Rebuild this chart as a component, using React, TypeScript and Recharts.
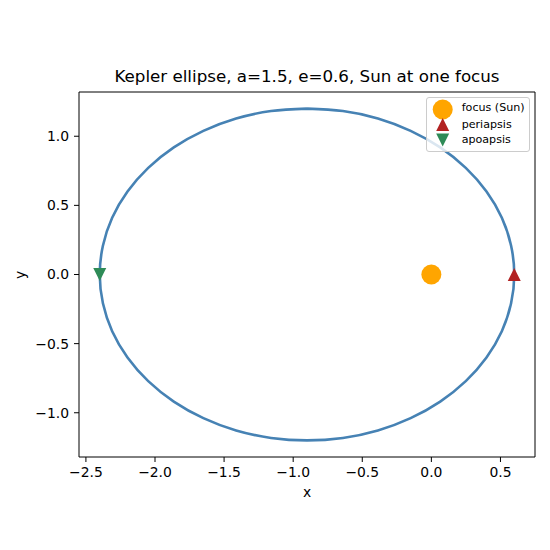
import {
  ComposedChart,
  Line,
  Scatter,
  XAxis,
  YAxis,
  ReferenceLine,
} from "recharts";

// orbit samples (every 10 degrees, starting at the top of the ellipse)
const orbitX = [
  -0.9, -1.16, -1.413, -1.65, -1.864, -2.049, -2.199, -2.31, -2.377, -2.4,
  -2.377, -2.31, -2.199, -2.049, -1.864, -1.65, -1.413, -1.16, -0.9,
  -0.64, -0.387, -0.15, 0.064, 0.249, 0.399, 0.51, 0.577, 0.6,
  0.577, 0.51, 0.399, 0.249, 0.064, -0.15, -0.387, -0.64, -0.9,
];
const orbitY = [
  1.2, 1.182, 1.128, 1.039, 0.919, 0.771, 0.6, 0.41, 0.208, 0,
  -0.208, -0.41, -0.6, -0.771, -0.919, -1.039, -1.128, -1.182, -1.2,
  -1.182, -1.128, -1.039, -0.919, -0.771, -0.6, -0.41, -0.208, 0,
  0.208, 0.41, 0.6, 0.771, 0.919, 1.039, 1.128, 1.182, 1.2,
];

const sunPos = [{ x: 0, y: 0 }];
const periPos = [{ x: 0.6, y: 0 }];
const apoPos = [{ x: -2.4, y: 0 }];

const xTicks = [-2.5, -2, -1.5, -1, -0.5, 0, 0.5];
const yTicks = [-1, -0.5, 0, 0.5, 1];
const xDomain = [-2.55, 0.75];
const yDomain = [-1.32, 1.32];

const legendLabels = ["focus (Sun)", "periapsis", "apoapsis"];

const ORBIT = "#4682b4";
const SUN = "#ffa500";
const PERI = "#b22222";
const APO = "#2e8b57";
const FONT = "DejaVu Sans";

const orbitData = orbitX.map((x, i) => ({ x, y: orbitY[i] }));

const fmt = (v: number) => v.toFixed(1).replace("-", "\u2212");

const triUp = (cx: number, cy: number, s: number) =>
  `M${cx},${cy - s / 2} L${cx - s / 2},${cy + s / 2} L${cx + s / 2},${cy + s / 2} Z`;
const triDown = (cx: number, cy: number, s: number) =>
  `M${cx},${cy + s / 2} L${cx - s / 2},${cy - s / 2} L${cx + s / 2},${cy - s / 2} Z`;

const tickStyle = { fill: "#000", fontSize: 13.9, fontFamily: FONT };

export default function App() {
  return (
    <div
      style={{
        position: "absolute",
        left: 0,
        top: 0,
        width: 550,
        height: 550,
        background: "#fff",
      }}
    >
      <ComposedChart
        width={550}
        height={550}
        margin={{ top: 92, right: 15, bottom: 53, left: 0 }}
      >
        <XAxis
          type="number"
          dataKey="x"
          domain={xDomain}
          ticks={xTicks}
          allowDataOverflow
          tickFormatter={fmt}
          height={40}
          tickSize={5}
          tickMargin={5}
          tick={tickStyle}
          stroke="#000"
        />
        <YAxis
          type="number"
          dataKey="y"
          domain={yDomain}
          ticks={yTicks}
          allowDataOverflow
          tickFormatter={fmt}
          width={79}
          tickSize={5}
          tickMargin={5}
          tick={tickStyle}
          stroke="#000"
        />
        <ReferenceLine y={yDomain[1]} stroke="#000" />
        <ReferenceLine x={xDomain[1]} stroke="#000" />
        <Line
          data={orbitData}
          dataKey="y"
          type="natural"
          stroke={ORBIT}
          strokeWidth={2.6}
          dot={false}
          isAnimationActive={false}
        />
        <Scatter
          data={sunPos}
          isAnimationActive={false}
          shape={(p: any) => <circle cx={p.cx} cy={p.cy} r={10} fill={SUN} />}
        />
        <Scatter
          data={periPos}
          isAnimationActive={false}
          shape={(p: any) => <path d={triUp(p.cx, p.cy, 13)} fill={PERI} />}
        />
        <Scatter
          data={apoPos}
          isAnimationActive={false}
          shape={(p: any) => <path d={triDown(p.cx, p.cy, 13)} fill={APO} />}
        />
      </ComposedChart>

      <svg
        width={550}
        height={550}
        style={{ position: "absolute", left: 0, top: 0, pointerEvents: "none" }}
        fontFamily={FONT}
      >
        <text x={307} y={82} textAnchor="middle" fontSize={16.7} fill="#000">
          Kepler ellipse, a=1.5, e=0.6, Sun at one focus
        </text>
        <text x={307} y={497} textAnchor="middle" fontSize={13.9} fill="#000">
          x
        </text>
        <text
          x={0}
          y={0}
          transform="translate(24.5,275) rotate(-90)"
          textAnchor="middle"
          fontSize={13.9}
          fill="#000"
        >
          y
        </text>

        <rect
          x={426.5}
          y={97.5}
          width={103}
          height={54}
          rx={2.5}
          fill="#fff"
          fillOpacity={0.8}
          stroke="#cccccc"
        />
        <circle cx={442.7} cy={109.5} r={10} fill={SUN} />
        <path d={triUp(442.7, 124.5, 13)} fill={PERI} />
        <path d={triDown(442.7, 140, 13)} fill={APO} />
        <text x={461.7} y={111} fontSize={11.1} fill="#000">
          {legendLabels[0]}
        </text>
        <text x={461.7} y={127.5} fontSize={11.1} fill="#000">
          {legendLabels[1]}
        </text>
        <text x={461.7} y={143.3} fontSize={11.1} fill="#000">
          {legendLabels[2]}
        </text>
      </svg>
    </div>
  );
}
